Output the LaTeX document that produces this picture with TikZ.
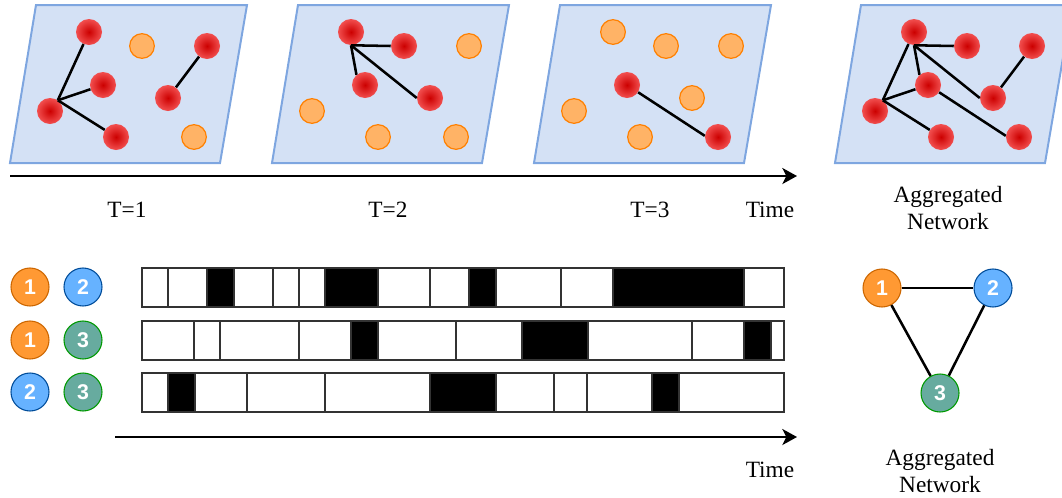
\documentclass[tikz,border=0pt]{standalone}
\usepackage{fontspec}
\setmainfont{Liberation Serif}
\setsansfont{Liberation Sans}
\usetikzlibrary{arrows.meta}

\definecolor{planefill}{HTML}{D4E1F5}
\definecolor{planeline}{HTML}{7EA6E0}
\definecolor{hotcore}{HTML}{CC0000}
\definecolor{hotedge}{HTML}{F24F4F}
\definecolor{idlefill}{HTML}{FFB366}
\definecolor{idleline}{HTML}{FF8000}
\definecolor{onefill}{HTML}{FF9933}
\definecolor{oneline}{HTML}{CC6600}
\definecolor{twofill}{HTML}{66B2FF}
\definecolor{twoline}{HTML}{004C99}
\definecolor{threefill}{HTML}{67AB9F}
\definecolor{threeline}{HTML}{009900}

\begin{document}
\begin{tikzpicture}[x=0.75pt,y=-0.75pt,
  plane/.style={fill=planefill,draw=planeline,line width=1.5pt},
  hot node/.style={circle,minimum size=19.5pt,inner sep=0pt,inner color=hotcore,outer color=hotedge},
  idle node/.style={circle,minimum size=18.5pt,inner sep=0pt,fill=idlefill,draw=idleline,line width=0.9pt},
  link/.style={line width=1.9pt},
  timeline/.style={-{Stealth[length=11pt,width=12pt,inset=3pt]},line width=1.8pt},
  tag/.style={font=\fontsize{17.5}{20}\selectfont,align=center},
  peer/.style={circle,minimum size=28.5pt,inner sep=0pt,line width=0.8pt,text=white,
    font=\sffamily\bfseries\fontsize{16}{16}\selectfont},
  orange peer/.style={peer,fill=onefill,draw=oneline},
  blue peer/.style={peer,fill=twofill,draw=twoline},
  green peer/.style={peer,fill=threefill,draw=threeline},
  cell/.style={draw=black!80,line width=1.1pt}]
  \useasboundingbox (0,0) rectangle (1062,497);

  % snapshots
  \begin{scope}[shift={(10,0)}]
    \draw[plane] (0,163) -- (210,163) -- (237,5) -- (26,5) -- cycle;
    \foreach \n/\x/\y/\s in {a/79/32/hot,b/132/46/idle,c/197/46/hot,d/93/85/hot,
        e/158/98/hot,f/40/111/hot,g/106/137/hot,h/184/137/idle}
      \node[\s\space node] (p1\n) at (\x,\y) {};
  \end{scope}
  \begin{scope}[shift={(272,0)}]
    \draw[plane] (0,163) -- (210,163) -- (237,5) -- (26,5) -- cycle;
    \foreach \n/\x/\y/\s in {a/79/32/hot,b/132/46/hot,c/197/46/idle,d/93/85/hot,
        e/158/98/hot,f/40/111/idle,g/106/137/idle,h/184/137/idle}
      \node[\s\space node] (p2\n) at (\x,\y) {};
  \end{scope}
  \begin{scope}[shift={(534,0)}]
    \draw[plane] (0,163) -- (210,163) -- (237,5) -- (26,5) -- cycle;
    \foreach \n/\x/\y/\s in {a/79/32/idle,b/132/46/idle,c/197/46/idle,d/93/85/hot,
        e/158/98/idle,f/40/111/idle,g/106/137/idle,h/184/137/hot}
      \node[\s\space node] (p3\n) at (\x,\y) {};
  \end{scope}
  \begin{scope}[shift={(835,0)}]
    \draw[plane] (0,163) -- (210,163) -- (237,5) -- (26,5) -- cycle;
    \foreach \n/\x/\y in {a/79/32,b/132/46,c/197/46,d/93/85,
        e/158/98,f/40/111,g/106/137,h/184/137}
      \node[hot node] (p4\n) at (\x,\y) {};
  \end{scope}

  \draw[link] (p1f.54) -- (p1a);
  \draw[link] (p1f.54) -- (p1d);
  \draw[link] (p1f.54) -- (p1g);
  \draw[link] (p1e) -- (p1c);
  \draw[link] (p2a.south) -- (p2b.west);
  \draw[link] (p2a.south) -- (p2d.130);
  \draw[link] (p2a.south) -- (p2e.west);
  \draw[link] (p3d) -- (p3h.175);
  \foreach \u/\v in {a.south/b.west,a.south/d.130,a.south/e.west,f.54/a,f.54/d,f.54/g,e/c,d/h.175}
    \draw[link] (p4\u) -- (p4\v);

  \draw[timeline] (10,176) -- (797,176);
  \node[tag] (t1) at (127,210) {T=1};
  \node[tag] (t2) at (388,210) {T=2};
  \node[tag] (t3) at (650,210) {T=3};
  \node[tag] (time1) at (770,210) {Time};
  \node[tag] (agg1) at (948,208) {Aggregated\\Network};

  % contact sequences per pair
  \node[orange peer] (r1a) at (30,287) {1};
  \node[blue peer] (r1b) at (83,287) {2};
  \node[orange peer] (r2a) at (30,340) {1};
  \node[green peer] (r2b) at (83,340) {3};
  \node[blue peer] (r3a) at (30,392) {2};
  \node[green peer] (r3b) at (83,392) {3};

  \foreach \l/\r/\c in {142/168/white,168/207/white,207/234/black,234/273/white,273/299/white,
      299/325/white,325/378/black,378/430/white,430/469/white,469/496/black,496/561/white,
      561/613/white,613/744/black,744/784/white}
    \draw[cell,fill=\c] (\l,268) rectangle (\r,307);
  \foreach \l/\r/\c in {142/194/white,194/220/white,220/299/white,299/351/white,351/378/black,
      378/456/white,456/522/white,522/588/black,588/692/white,692/744/white,744/771/black,
      771/784/white}
    \draw[cell,fill=\c] (\l,321) rectangle (\r,360);
  \foreach \l/\r/\c in {142/168/white,168/195/black,195/247/white,247/325/white,325/430/white,
      430/496/black,496/554/white,554/587/white,587/652/white,652/679/black,679/784/white}
    \draw[cell,fill=\c] (\l,373) rectangle (\r,412);

  \draw[timeline] (115,437) -- (797,437);
  \node[tag] (time2) at (770,470) {Time};

  % aggregated graph
  \node[orange peer] (g1) at (882,288) {1};
  \node[blue peer] (g2) at (993,288) {2};
  \node[green peer] (g3) at (940,393) {3};
  \draw[link] (g1) -- (g2);
  \draw[link] (g1) -- (g3);
  \draw[link] (g2) -- (g3);
  \node[tag] (agg2) at (940,471) {Aggregated\\Network};
\end{tikzpicture}
\end{document}
